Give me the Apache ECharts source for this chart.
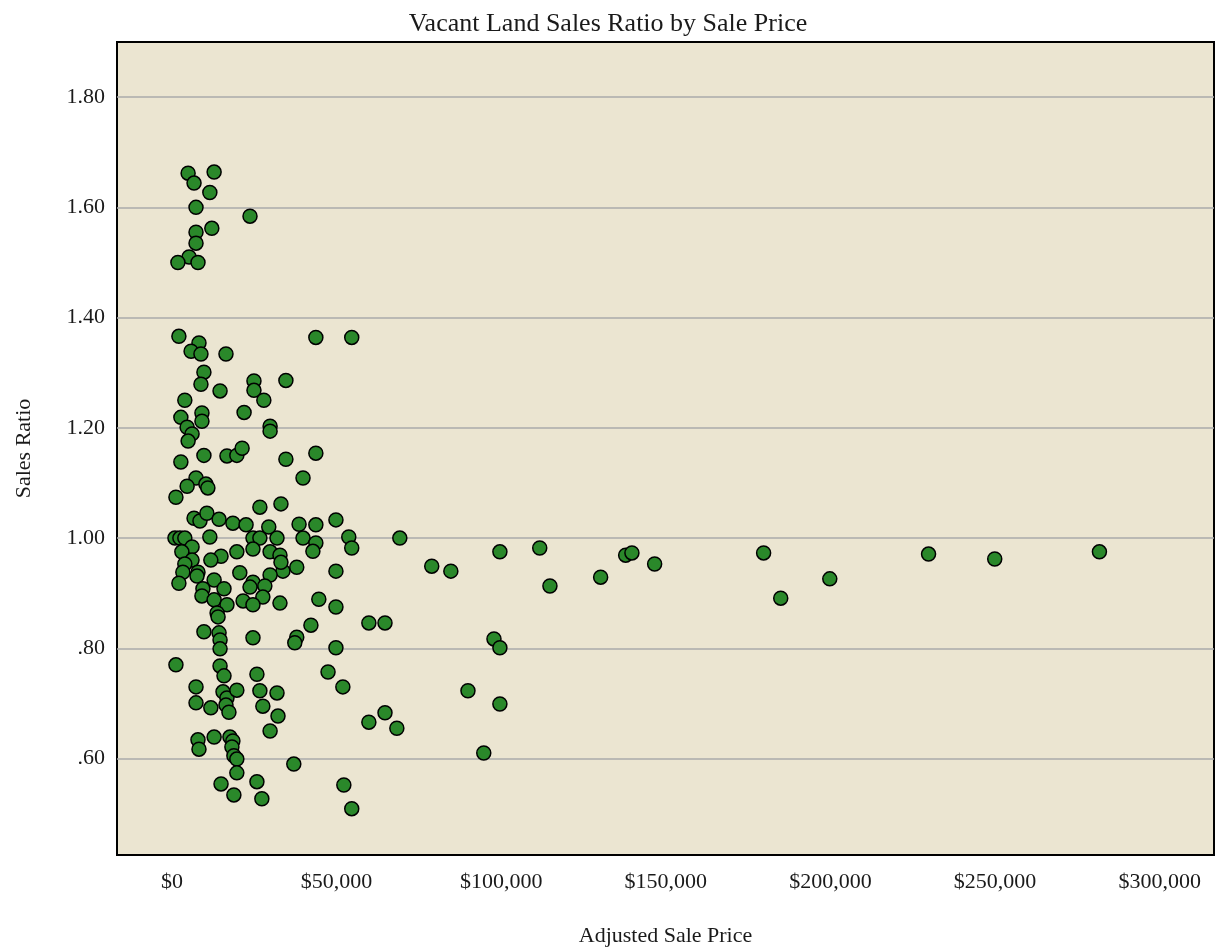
<!DOCTYPE html>
<html>
<head>
<meta charset="utf-8">
<title>Vacant Land Sales Ratio by Sale Price</title>
<script src="https://cdn.jsdelivr.net/npm/echarts@6/dist/echarts.min.js"></script>
<style>
  html, body { margin: 0; padding: 0; background: #fff; }
  #chart { width: 1216px; height: 952px; }
</style>
</head>
<body>
<div id="chart"></div>
<script>
  // adjusted sale price ($) of each sale
  const salePrice = [
    4900, 12800, 6700, 11500, 7300, 23700, 12100, 7300, 7300, 5200, 1800, 7900,
    2100, 8200, 5800, 8800, 16400, 9700, 8800, 14600, 24900, 24900,
    34600, 27900, 3900, 21900, 2700, 9100, 9100, 4600, 29800, 29800,
    6100, 4900, 9700, 16700, 19700, 21300, 2700, 34600, 7300, 4600,
    10300, 10900, 1200, 39800, 43700, 54600, 43700,
    26700, 33100, 6700, 8500, 10600, 14300, 18500, 22500, 29400, 38600,
    900, 2400, 3900, 11500, 24600, 26700, 31900, 39800, 6100, 3000,
    24600, 29800, 32800, 19700, 14900, 11800, 6100, 3900, 3300, 7900,
    7600, 33700, 37900, 2100, 20600, 29800, 12800, 24600, 23700, 15800,
    28200, 9400, 9100, 12800, 16700, 21600, 27600, 24600, 32800, 13700,
    14000, 9700, 14300, 24600,
    14600, 37900, 37300, 14600, 1200, 14600, 15800, 25800, 7300, 15500,
    16700, 19700, 26700, 31900, 7300, 11800, 16400, 17300, 27600, 32200,
    29800, 7900, 8200, 12800, 17600, 18500, 18200, 18800, 19700, 37000,
    19700, 14900, 25800, 18800, 27300,
    43700, 49800, 43700, 42800, 53700, 54600, 69200, 49800, 44600, 49800,
    42200, 59800, 64700, 49800, 47400, 51900, 59800, 64700, 68300, 52200,
    54600,
    78900, 84700, 99600, 111700, 114800, 130200, 137800, 139700, 146600, 97800,
    99600, 89900, 99600, 94700, 179700, 184900, 199800, 229800, 249900, 281700,
    33100
  ];

  // sales ratio of each sale, same order
  const salesRatio = [
    1.662, 1.664, 1.644, 1.627, 1.600, 1.584, 1.562, 1.555, 1.535, 1.510, 1.500, 1.500,
    1.366, 1.354, 1.339, 1.334, 1.334, 1.301, 1.279, 1.267, 1.285, 1.268,
    1.286, 1.250, 1.250, 1.228, 1.219, 1.227, 1.212, 1.201, 1.203, 1.194,
    1.189, 1.176, 1.150, 1.149, 1.150, 1.163, 1.138, 1.143, 1.109, 1.094,
    1.098, 1.091, 1.074, 1.109, 1.364, 1.364, 1.154,
    1.056, 1.062, 1.036, 1.031, 1.045, 1.034, 1.027, 1.024, 1.020, 1.025,
    1.000, 1.000, 1.000, 1.002, 1.000, 1.000, 1.000, 1.000, 0.984, 0.975,
    0.980, 0.975, 0.969, 0.975, 0.967, 0.960, 0.960, 0.953, 0.938, 0.938,
    0.931, 0.940, 0.947, 0.918, 0.937, 0.933, 0.924, 0.920, 0.911, 0.908,
    0.913, 0.908, 0.895, 0.888, 0.879, 0.886, 0.893, 0.879, 0.882, 0.864,
    0.857, 0.830, 0.828, 0.819,
    0.815, 0.820, 0.810, 0.799, 0.770, 0.768, 0.750, 0.753, 0.730, 0.721,
    0.710, 0.724, 0.723, 0.719, 0.701, 0.692, 0.697, 0.684, 0.695, 0.677,
    0.650, 0.634, 0.617, 0.639, 0.639, 0.632, 0.621, 0.605, 0.599, 0.590,
    0.574, 0.554, 0.558, 0.534, 0.527,
    1.024, 1.033, 0.991, 0.976, 1.002, 0.982, 1.000, 0.940, 0.889, 0.875,
    0.842, 0.846, 0.846, 0.801, 0.757, 0.730, 0.666, 0.683, 0.655, 0.552,
    0.509,
    0.949, 0.940, 0.975, 0.982, 0.913, 0.929, 0.969, 0.973, 0.953, 0.817,
    0.801, 0.723, 0.699, 0.610, 0.973, 0.891, 0.926, 0.971, 0.962, 0.975,
    0.956
  ];

  const priceTicks = [0, 50000, 100000, 150000, 200000, 250000, 300000];
  const ratioTicks = [0.6, 0.8, 1.0, 1.2, 1.4, 1.6, 1.8];

  const font = 'Liberation Serif';
  const points = salePrice.map((p, i) => [p, salesRatio[i]]);

  const chart = echarts.init(document.getElementById('chart'));
  chart.setOption({
    animation: false,
    backgroundColor: '#ffffff',
    title: {
      text: 'Vacant Land Sales Ratio by Sale Price',
      left: 'center',
      top: 6,
      textStyle: { fontFamily: font, fontSize: 26, fontWeight: 'normal', color: '#1a1a1a' }
    },
    grid: {
      left: 117, right: 2, top: 42, bottom: 97,
      show: true,
      backgroundColor: '#ebe5d1',
      borderColor: '#000',
      borderWidth: 2
    },
    xAxis: {
      type: 'value',
      min: -16700,
      max: 316500,
      name: 'Adjusted Sale Price',
      nameLocation: 'middle',
      nameGap: 70,
      nameTextStyle: { fontFamily: font, fontSize: 22, color: '#1a1a1a' },
      axisLine: { show: false },
      axisTick: { show: false, customValues: priceTicks },
      splitLine: { show: false },
      axisLabel: {
        customValues: priceTicks,
        margin: 16,
        fontFamily: font, fontSize: 22, color: '#1a1a1a',
        formatter: v => '$' + v.toLocaleString('en-US')
      }
    },
    yAxis: {
      type: 'value',
      min: 0.425,
      max: 1.9,
      name: 'Sales Ratio',
      nameLocation: 'middle',
      nameGap: 82,
      nameTextStyle: { fontFamily: font, fontSize: 22, color: '#1a1a1a' },
      axisLine: { show: false },
      axisTick: { show: false, customValues: ratioTicks },
      splitLine: { show: true, lineStyle: { color: '#aaaaaa', width: 1.5 } },
      axisLabel: {
        customValues: ratioTicks,
        margin: 12,
        fontFamily: font, fontSize: 22, color: '#1a1a1a',
        formatter: v => {
          const s = v.toFixed(2);
          return v < 1 ? s.replace(/^0/, '') : s;
        }
      }
    },
    series: [{
      type: 'scatter',
      data: points,
      symbol: 'circle',
      symbolSize: 14,
      itemStyle: { color: '#2a882a', borderColor: '#000', borderWidth: 1.5, opacity: 1 }
    }]
  });
</script>
</body>
</html>
